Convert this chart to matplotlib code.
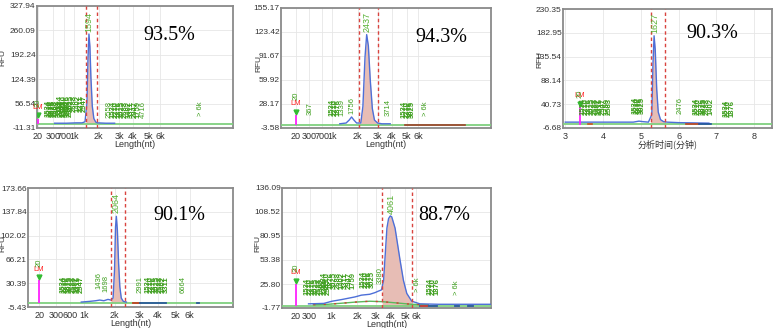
import matplotlib
matplotlib.use("Agg")
import matplotlib.pyplot as plt
import numpy as np

plt.rcParams['font.family'] = ['Liberation Sans', 'DejaVu Sans']

W, H = 774, 328

# ---------------- data ----------------
# Panel 1
p1_yticks = [-11.31, 56.54, 124.39, 192.24, 260.09, 327.94]
p1_xticks = [0.5, 8.2, 14, 18.7, 31.5, 41.8, 49, 57, 63]
p1_xlabels = ['20', '300', '700', '1k', '2k', '3k', '4k', '5k', '6k']
p1_x = [9, 15, 20, 23, 24.5, 25.5, 26.0, 26.5, 27.0, 27.5, 28.2, 29, 30, 31, 35, 39.6]
p1_y = [2, 2, 3, 3, 6, 60, 180, 250, 215, 130, 50, 15, 5, 3, 2, 2]
p1_cut = [25.2, 30.8]
p1_lm = [0.5, 15]
p1_pct = '93.5%'
p1_peak = ['1594', 26.5, 256]
p1_labels = [('20', 0.5, 48), ('2558', 36.7, 17), ('4716', 54.4, 17), ('> 6k', 83.5, 22)]
p1_clusters = [(5.6, 17, 13, 18), (12, 24.3, 8, 32), (38.8, 51.5, 9, 17)]

# Panel 2
p2_yticks = [-3.58, 28.17, 59.92, 91.67, 123.42, 155.17]
p2_xticks = [7, 13.5, 19.4, 24.4, 36.5, 46, 52.7, 59.8, 65.4]
p2_xlabels = ['20', '300', '700', '1k', '2k', '3k', '4k', '5k', '6k']
p2_x = [28, 31, 32.5, 33.6, 34.7, 36, 38, 39, 40, 40.8, 41.6, 42.5, 43.5, 44.5, 46, 48, 52]
p2_y = [2, 3, 7, 11, 7, 3, 3, 25, 90, 120, 105, 60, 22, 7, 3, 2, 2]
p2_cut = [37.3, 46.3]
p2_lm = [7, 14]
p2_pct = '94.3%'
p2_peak = ['2437', 40.8, 124]
p2_labels = [('20', 7, 34), ('367', 13.8, 14), ('1339', 29.2, 12), ('1756', 34, 15),
             ('3714', 51, 12), ('> 6k', 68.6, 12)]
p2_clusters = [(24.4, 27.3, 3, 12), (58.7, 62.5, 4, 10)]

# Panel 3 (time axis, minutes)
p3_yticks = [-6.68, 40.73, 88.14, 135.54, 182.95, 230.35]
p3_xticks = [3, 4, 5, 6, 7, 8]
p3_xlabels = ['3', '4', '5', '6', '7', '8']
p3_x = [3.0, 3.3, 4.8, 4.95, 5.05, 5.2, 5.29, 5.32, 5.35, 5.38, 5.42, 5.46, 5.52, 5.6, 5.7, 6.0, 6.8]
p3_y = [5, 5, 5, 7, 6, 5, 20, 120, 177, 150, 70, 25, 10, 6, 5, 4, 3]
p3_cut = [5.26, 5.65]
p3_lm = [3.38, 35]
p3_pct = '90.3%'
p3_peak = ['1627', 5.36, 182]
p3_labels = [('20', 3.38, 53), ('2476', 6.05, 22)]
p3_clusters = [(3.48, 4.17, 10, 20), (4.85, 5.05, 4, 22), (6.45, 6.85, 6, 20), (7.25, 7.4, 3, 16)]

# Panel 4
p4_yticks = [-5.43, 30.39, 66.21, 102.02, 137.84, 173.66]
p4_xticks = [5.4, 13.8, 20.3, 27.2, 42.3, 54.5, 63.4, 72, 78.9]
p4_xlabels = ['20', '300', '600', '1k', '2k', '3k', '4k', '5k', '6k']
p4_x = [26, 30, 33, 35, 37, 39, 40.5, 41.5, 42.2, 42.7, 43.1, 43.6, 44.2, 44.8, 45.5, 46.5, 48]
p4_y = [2, 3, 4, 5, 4, 6, 5, 8, 50, 115, 131, 110, 60, 25, 8, 3, 2]
p4_cut = [40.7, 47.5]
p4_lm = [5.4, 34.6]
p4_pct = '90.1%'
p4_peak = ['2064', 43.1, 136]
p4_labels = [('20', 5.4, 55), ('1436', 34.6, 22), ('1698', 38, 17), ('2991', 54.8, 15), ('6664', 75.6, 15)]
p4_clusters = [(16.9, 26, 8, 15), (58.5, 67.5, 7, 15)]

# Panel 5
p5_yticks = [-1.77, 25.80, 53.38, 80.95, 108.52, 136.09]
p5_xticks = [6.7, 13.2, 23.6, 35.8, 44.9, 51.8, 58.9, 64.2]
p5_xlabels = ['20', '300', '1k', '2k', '3k', '4k', '5k', '6k']
p5_x = [12.7, 20, 23.9, 28.7, 35, 38, 42, 44.6, 46, 47.6, 48.6, 49.4, 50.2, 51, 51.8, 52.5,
        54.1, 56.5, 58.1, 59.7, 62.1, 66, 75, 100]
p5_y = [3, 3.5, 6, 8, 11, 13, 14, 16, 17.5, 19, 30, 60, 90, 101, 104, 103,
        90, 53, 30, 15, 6, 3, 2.5, 2.5]
p5_gx = [15, 22, 30, 35, 42, 48, 55, 62, 70]
p5_gy = [2, 2.5, 4, 5, 6, 5.5, 4, 2.5, 2]
p5_cut = [47.9, 62.4]
p5_lm = [6.7, 25.6]
p5_pct = '88.7%'
p5_peak = ['4061', 52.2, 106]
p5_labels = [('20', 6.7, 40), ('3380', 47, 26), ('> 6k', 65, 17), ('> 6k', 83.6, 13)]
p5_clusters = [(12, 22, 8, 13), (20, 34, 9, 20), (39, 43, 4, 21), (70.9, 74, 3, 13)]

cluster_texts = ['1534', '2210', '1876', '3025', '2688', '1402', '3311', '2947', '1759', '2583',
                 '3466', '1923', '2075']

# ---------------- drawing ----------------
fig = plt.figure(figsize=(W / 100, H / 100), dpi=100)

BLUE = '#4d6fd8'
GREEN_LINE = '#7fd07f'
GREEN_TXT = '#3f9f1f'
PINK = '#e7bdb5'
RED = '#d9443f'
FRAME = '#8a8a8a'


def add_ax(l, t, r, b):
    return fig.add_axes([l / W, 1 - b / H, (r - l) / W, (b - t) / H])


def panel(rect, yticks, xticks, xlabels, xs, ys, cut, lm, pct, pct_xy, peak, labels, clusters,
          rfu_xy, xlim=(0, 100), xlabel='Length(nt)', xlabel_family=None):
    ax = add_ax(*rect)
    l, t, r, b = rect
    ax.set_xlim(*xlim)
    ax.set_ylim(yticks[0], yticks[-1])
    ax.set_yticks(yticks)
    ax.set_yticklabels(['%.2f' % v for v in yticks], fontsize=6, color='#333333')
    ax.set_xticks(xticks)
    ax.set_xticklabels(xlabels, fontsize=6.5, color='#333333')
    ax.tick_params(length=0, pad=1)
    ax.tick_params(axis='x', pad=3)
    ax.grid(True, color='#e6e6e6', lw=0.6)
    ax.set_axisbelow(True)
    for s in ax.spines.values():
        s.set_color(FRAME)
        s.set_linewidth(1.3)
    ax.set_ylabel('RFU', fontsize=6, color='#333333')
    ax.yaxis.set_label_coords((rfu_xy[0] - l) / (r - l), (b - rfu_xy[1]) / (b - t))
    kw = {'fontsize': 6.5, 'labelpad': -1, 'color': '#333333'}
    if xlabel_family:
        kw['family'] = xlabel_family
    ax.set_xlabel(xlabel, **kw)

    xs = np.asarray(xs, float)
    ys = np.asarray(ys, float)
    m = (xs >= cut[0]) & (xs <= cut[1])
    xf = np.concatenate([[cut[0]], xs[m], [cut[1]]])
    yf = np.interp(xf, xs, ys)
    ax.fill_between(xf, 0, yf, color=PINK, lw=0, zorder=2)
    ax.axhline(0.8, color=GREEN_LINE, lw=1.3, zorder=3)
    ax.plot(xs, ys, color=BLUE, lw=1.0, zorder=4)
    for c in cut:
        ax.axvline(c, color=RED, ls=(0, (2.5, 2)), lw=1.0, zorder=5)

    # ladder marker
    x0, h = lm
    span = yticks[-1] - yticks[0]
    ax.vlines(x0, 0, h, color='#ff22ff', lw=1.3, zorder=5)
    ax.plot([x0], [h + span * 0.025], marker='v', ms=3.5, color='#33bb33', zorder=6)
    ax.text(x0, h + span * 0.065, 'LM', color='#ff2222', fontsize=5.5, ha='center',
            va='bottom', zorder=6)

    # peak annotation
    ax.text(peak[1], peak[2], peak[0], rotation=90, color='#55b030', fontsize=6.5,
            ha='center', va='bottom', zorder=6)
    for txt, x, y in labels:
        ax.text(x, y, txt, rotation=90, color=GREEN_TXT, fontsize=5.5, ha='center',
                va='bottom', zorder=6)
    for (a, bb, n, y) in clusters:
        for i, x in enumerate(np.linspace(a, bb, n)):
            ax.text(x, y, cluster_texts[i % len(cluster_texts)], rotation=90,
                    color=GREEN_TXT, fontsize=5.5, ha='center', va='bottom',
                    fontweight='bold', zorder=6)

    fig.text(pct_xy[0] / W, 1 - pct_xy[1] / H, pct, family='Liberation Serif',
             fontsize=14.5, ha='center', va='center')
    return ax


ax1 = panel((37, 6, 233, 128), p1_yticks, p1_xticks, p1_xlabels, p1_x, p1_y, p1_cut, p1_lm,
            p1_pct, (169, 36), p1_peak, p1_labels, p1_clusters, rfu_xy=(6, 57))

ax2 = panel((281, 8, 491, 128), p2_yticks, p2_xticks, p2_xlabels, p2_x, p2_y, p2_cut, p2_lm,
            p2_pct, (441, 38), p2_peak, p2_labels, p2_clusters, rfu_xy=(262, 63))
ax2.plot([59, 87.6], [1.0, 1.0], color='#a0402a', lw=1.2, zorder=4)

ax3 = panel((563, 9, 772, 128), p3_yticks, p3_xticks, p3_xlabels, p3_x, p3_y, p3_cut, p3_lm,
            p3_pct, (712, 34), p3_peak, p3_labels, p3_clusters, rfu_xy=(543, 60),
            xlim=(2.94, 8.47),
            xlabel='分析时间(分钟)', xlabel_family=['Noto Sans CJK SC', 'DejaVu Sans'])
ax3.plot([3.6, 3.7], [1.5, 1.5], color='#d05020', lw=1.2, zorder=4)
ax3.plot([6.2, 6.55], [1.5, 1.5], color='#c04020', lw=1.2, zorder=4)
ax3.plot([6.55, 6.85], [1.5, 1.5], color='#2050a0', lw=1.2, zorder=4)

ax4 = panel((28, 188, 233, 307), p4_yticks, p4_xticks, p4_xlabels, p4_x, p4_y, p4_cut, p4_lm,
            p4_pct, (179, 216), p4_peak, p4_labels, p4_clusters, rfu_xy=(6, 243))
ax4.plot([51.2, 54.5], [1.0, 1.0], color='#c04020', lw=1.3, zorder=4)
ax4.plot([54.5, 67.5], [1.0, 1.0], color='#2a5a9a', lw=1.3, zorder=4)
ax4.plot([82.5, 83.3], [0.0, 0.0], color='#2a5a9a', lw=1.3, zorder=4)

ax5 = panel((282, 188, 491, 308), p5_yticks, p5_xticks, p5_xlabels, p5_x, p5_y, p5_cut, p5_lm,
            p5_pct, (444, 215), p5_peak, p5_labels, p5_clusters, rfu_xy=(261, 244))
ax5.plot(p5_gx, p5_gy, color='#5cb85c', lw=1.0, zorder=3)
ax5.plot(p5_gx, p5_gy, color='#d04030', lw=1.0, ls=(0, (1.5, 6)), zorder=3)
ax5.plot([66, 74], [1.0, 1.0], color='#2a5a9a', lw=1.3, zorder=4)
ax5.plot([66.5, 69.5], [0.8, 0.8], color='#d04030', lw=1.3, zorder=4)
ax5.plot([83, 84.5], [0.5, 0.5], color='#2a5a9a', lw=1.3, zorder=4)
ax5.plot([89, 91.5], [0.0, 0.0], color='#2a5a9a', lw=1.3, zorder=4)

fig.savefig('out.png', dpi=100)
